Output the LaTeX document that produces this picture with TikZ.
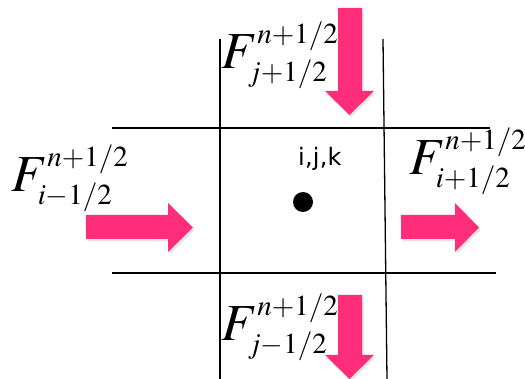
\documentclass[tikz,border=0pt]{standalone}
\usepackage{mathptmx}
\usepackage[no-math]{fontspec}
\newfontfamily\cellfont{DejaVu Sans}[LetterSpace=1]
\DeclareMathSizes{52}{52}{29}{20}
\usetikzlibrary{shadows}
\definecolor{fluxpink}{RGB}{255,45,122}

\begin{document}
\begin{tikzpicture}[
    x=1pt, y=-1pt,
    grid/.style     = {line width=1.3pt, black},
    fluxarrow/.style = {fill=fluxpink,
                        drop shadow={shadow xshift=1.5pt, shadow yshift=-2.5pt,
                                     opacity=0.2}},
    flux/.style     = {inner sep=0pt, anchor=base west,
                       font=\fontsize{52}{60}\selectfont},
    center/.style   = {circle, fill=black, minimum size=20pt, inner sep=0pt},
    celllbl/.style  = {inner sep=0pt, anchor=base west},
]
\useasboundingbox (0,0) rectangle (525,379);

%% -- Cell faces ------------------------------------------------------------
\coordinate (wn) at (220,39);  \coordinate (ws) at (220,379);
\coordinate (en) at (383,39);  \coordinate (es) at (387,379);
\coordinate (nw) at (112,128); \coordinate (ne) at (490,128);
\coordinate (sw) at (112,273); \coordinate (se) at (496,273);
\draw[grid] (wn) -- (ws);
\draw[grid] (en) -- (es);
\draw[grid] (nw) -- (ne);
\draw[grid] (sw) -- (se);

%% -- Cell centre -----------------------------------------------------------
\node[center] (ijk) at (303,202) {};
\node[celllbl] (ijklbl) at (298,166) {\cellfont\fontsize{24}{28}\selectfont i,j,k};

%% -- Flux arrows -----------------------------------------------------------
\fill[fluxarrow] (338,8) -- (362,8) -- (362,91) -- (374,91) -- (349.5,115)
  -- (325,91) -- (338,91) -- cycle;
\fill[fluxarrow] (338,295) -- (362,295) -- (362,355) -- (374,355)
  -- (349.5,379) -- (325,355) -- (338,355) -- cycle;
\fill[fluxarrow] (86,215) -- (168,215) -- (168,203) -- (193,227.5)
  -- (168,252) -- (168,239) -- (86,239) -- cycle;
\fill[fluxarrow] (401,215) -- (455,215) -- (455,203) -- (479,227.5)
  -- (455,252) -- (455,239) -- (401,239) -- cycle;

%% -- Flux labels -----------------------------------------------------------
\node[flux] (fnorth) at (221,69)  {$F^{n+1/2}_{j+1/2}$};
\node[flux] (fsouth) at (221,341) {$F^{n+1/2}_{j-1/2}$};
\node[flux] (fwest)  at (11,192)  {$F^{n+1/2}_{i-1/2}$};
\node[flux] (feast)  at (409,175) {$F^{n+1/2}_{i+1/2}$};

\end{tikzpicture}
\end{document}
